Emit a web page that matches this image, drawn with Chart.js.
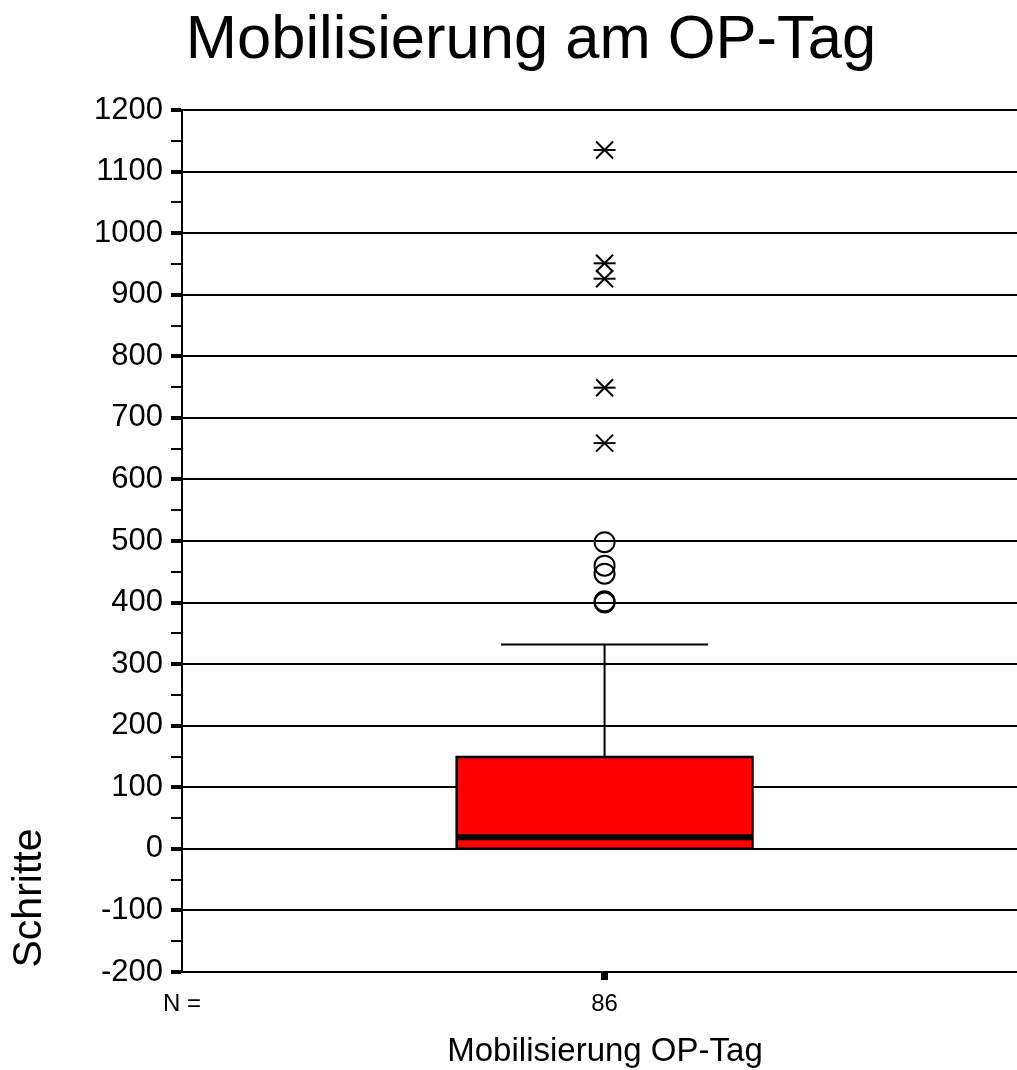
<style>
  body {
    margin: 0;
    background: #fff;
    overflow: hidden;
  }
</style>
<canvas id="boxChart" width="1017" height="1070"></canvas>
<script src="https://cdn.jsdelivr.net/npm/chart.js"></script>
<script>
// values
const chartTitle = 'Mobilisierung am OP-Tag';
const yTitle = 'Schritte';
const categories = ['Mobilisierung OP-Tag'];
const caseCounts = [86];
const lowerWhisker = [0];
const lowerQuartile = [0];
const medians = [19];
const upperQuartile = [149];
const upperWhisker = [332];
const outliers = [400, 402, 447, 460, 498];   // circles
const extremes = [659, 749, 926, 951, 1135];  // stars
const yMin = -200;
const yMax = 1200;
const yStep = 100;

const boxHalf = 0.35;
const capHalf = 0.245;
const font = "'Liberation Sans', Arial, sans-serif";

const i = 0;
const cx = 1;

// lower order = drawn on top
const datasets = [
    {   // box fill
        type: 'line',
        order: 10,
        data: [{x: cx - boxHalf, y: upperQuartile[i]}, {x: cx + boxHalf, y: upperQuartile[i]}],
        fill: {value: lowerQuartile[i]},
        backgroundColor: '#ff0000',
        borderColor: 'rgba(0,0,0,0)',
        borderWidth: 0,
        pointRadius: 0
    },
    {   // box outline
        type: 'line',
        order: 5,
        data: [
            {x: cx - boxHalf, y: lowerQuartile[i]},
            {x: cx - boxHalf, y: upperQuartile[i]},
            {x: cx + boxHalf, y: upperQuartile[i]},
            {x: cx + boxHalf, y: lowerQuartile[i]},
            {x: cx - boxHalf, y: lowerQuartile[i]}
        ],
        borderColor: '#000',
        borderWidth: 2.5,
        pointRadius: 0,
        fill: false
    },
    {   // median
        type: 'line',
        order: 4,
        data: [{x: cx - boxHalf, y: medians[i]}, {x: cx + boxHalf, y: medians[i]}],
        borderColor: '#000',
        borderWidth: 6,
        borderCapStyle: 'butt',
        pointRadius: 0,
        fill: false
    },
    {   // upper whisker
        type: 'line',
        order: 5,
        data: [{x: cx, y: upperQuartile[i]}, {x: cx, y: upperWhisker[i]}],
        borderColor: '#000',
        borderWidth: 2,
        pointRadius: 0,
        fill: false
    },
    {   // whisker cap
        type: 'line',
        order: 5,
        data: [{x: cx - capHalf, y: upperWhisker[i]}, {x: cx + capHalf, y: upperWhisker[i]}],
        borderColor: '#000',
        borderWidth: 2,
        pointRadius: 0,
        fill: false
    },
    {   // outliers
        type: 'scatter',
        order: 1,
        data: outliers.map(v => ({x: cx, y: v})),
        pointStyle: 'circle',
        pointRadius: 10,
        borderColor: '#000',
        backgroundColor: 'rgba(0,0,0,0)',
        borderWidth: 2
    },
    {   // extremes: X part of the star
        type: 'scatter',
        order: 1,
        data: extremes.map(v => ({x: cx, y: v})),
        pointStyle: 'crossRot',
        pointRadius: 12,
        borderColor: '#000',
        borderWidth: 2
    },
    {   // extremes: horizontal bar of the star
        type: 'scatter',
        order: 1,
        data: extremes.map(v => ({x: cx, y: v})),
        pointStyle: 'line',
        pointRadius: 11,
        borderColor: '#000',
        borderWidth: 2
    }
];

// titles drawn at the spots they have in the original
const textPlugin = {
    id: 'texts',
    afterDraw(chart) {
        const ctx = chart.ctx;
        ctx.save();
        ctx.fillStyle = '#000';
        ctx.textAlign = 'center';
        ctx.textBaseline = 'alphabetic';
        ctx.font = '61.5px ' + font;
        ctx.fillText(chartTitle, 531, 58);

        ctx.textBaseline = 'middle';
        ctx.font = '33px ' + font;
        ctx.fillText(categories[i], 605, 1052);

        ctx.translate(30, 898);
        ctx.rotate(-Math.PI / 2);
        ctx.font = '41px ' + font;
        ctx.fillText(yTitle, 0, 0);
        ctx.restore();
    }
};

new Chart(document.getElementById('boxChart'), {
    type: 'scatter',
    data: {datasets: datasets},
    plugins: [textPlugin],
    options: {
        responsive: false,
        animation: false,
        layout: {
            autoPadding: false,
            padding: {top: 110, right: 0, bottom: 0, left: 0}
        },
        plugins: {
            legend: {display: false},
            tooltip: {enabled: false}
        },
        scales: {
            x: {
                type: 'linear',
                min: 0,
                max: 1.976,
                afterBuildTicks: scale => {
                    scale.ticks = [{value: 0}, {value: cx}];
                },
                afterFit: scale => {
                    scale.height = 98;
                },
                ticks: {
                    autoSkip: false,
                    maxRotation: 0,
                    padding: 10,
                    color: '#000',
                    font: {family: font, size: 24},
                    callback: v => v === 0 ? 'N =' : String(caseCounts[i])
                },
                grid: {
                    drawOnChartArea: false,
                    tickLength: 8,
                    tickWidth: 7,
                    tickColor: c => (c.tick && c.tick.value === cx) ? '#000' : 'rgba(0,0,0,0)'
                },
                border: {display: true, color: '#000', width: 2}
            },
            y: {
                min: yMin,
                max: yMax,
                afterFit: scale => {
                    scale.width = 182;
                },
                ticks: {
                    stepSize: yStep / 2,
                    autoSkip: false,
                    padding: 8,
                    color: '#000',
                    font: {family: font, size: 31},
                    callback: v => v % yStep === 0 ? v : ''
                },
                grid: {
                    color: c => (c.tick && c.tick.value % yStep === 0) ? '#000' : 'rgba(0,0,0,0)',
                    lineWidth: 2,
                    tickLength: 11,
                    tickColor: '#000',
                    tickWidth: c => (c.tick && c.tick.value % yStep === 0) ? 4 : 2
                },
                border: {display: true, color: '#000', width: 2}
            }
        }
    }
});
</script>
